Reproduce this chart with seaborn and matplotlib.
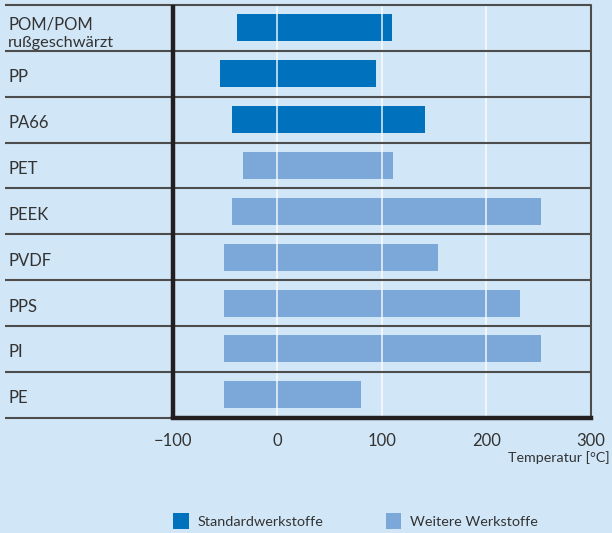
import matplotlib
matplotlib.use("Agg")
import matplotlib.pyplot as plt
import seaborn as sns
import pandas as pd
import numpy as np
from matplotlib.patches import Patch

# ---- data ----
materials = ["POM/POM\nrußgeschwärzt", "PP", "PA66", "PET", "PEEK", "PVDF", "PPS", "PI", "PE"]
t_min = [-39, -55, -43, -33, -43, -51, -51, -51, -51]
t_max = [110, 94, 141, 111, 252, 154, 232, 252, 80]
groups = ["Standardwerkstoffe"] * 3 + ["Weitere Werkstoffe"] * 6
group_order = ["Standardwerkstoffe", "Weitere Werkstoffe"]
x_ticks = [-100, 0, 100, 200, 300]
x_ticklabels = ["\u2212100", "0", "100", "200", "300"]
x_label = "Temperatur [°C]"

# ---- style ----
BG = "#d1e6f6"
palette = {"Standardwerkstoffe": "#0071bc", "Weitere Werkstoffe": "#7ba7d9"}
TXT = "#333333"
LINE = "#4d4d4d"
AXIS = "#231f20"

df = pd.DataFrame({"material": materials, "tmin": t_min, "tmax": t_max, "group": groups})
df["span"] = df["tmax"] - df["tmin"]

sns.set_style("white")
plt.rcParams["font.family"] = ["Lato", "DejaVu Sans"]

W, H = 612, 533
fig = plt.figure(figsize=(W / 100, H / 100), dpi=100, facecolor=BG)
top_px, bot_px, left_px, right_px = 5, 417.7, 5, 591
ax = fig.add_axes([left_px / W, 1 - bot_px / H, (right_px - left_px) / W, (bot_px - top_px) / H])
ax.set_facecolor(BG)

sns.barplot(data=df, x="span", y="material", hue="group", order=materials,
            hue_order=group_order, palette=palette, dodge=False, width=0.59,
            saturation=1, legend=False, ax=ax)
for p in ax.patches:
    yc = p.get_y() + p.get_height() / 2
    if not np.isfinite(yc) or not np.isfinite(p.get_width()):
        continue
    i = int(round(yc))
    p.set_x(df["tmin"].iloc[i])
    p.set_linewidth(0)
    p.set_zorder(2)

x0 = -100 - (172.7 - left_px) / 1.045
ax.set_xlim(x0, 300)
ax.set_ylim(len(materials) - 0.5, -0.5)
for s in ax.spines.values():
    s.set_visible(False)
ax.set_yticks([])
ax.set_ylabel("")
ax.set_xlabel("")
ax.set_xticks(x_ticks)
ax.set_xticklabels(x_ticklabels)
ax.tick_params(axis="x", length=5, width=1.8, color=AXIS, pad=6, labelsize=12, labelcolor=TXT)
ax.grid(False)

# white vertical grid lines over bars
for x in [0, 100, 200]:
    ax.plot([x, x], [-0.5, len(materials) - 0.5], color="white", lw=1.3, alpha=0.75, zorder=4)

# row separators
for k in range(len(materials) + 1):
    ax.plot([x0, 300], [k - 0.5, k - 0.5], color=LINE, lw=1.5, zorder=5, clip_on=False,
            solid_capstyle="butt")
# right border
ax.plot([300, 300], [-0.5, len(materials) - 0.5], color=LINE, lw=1.5, zorder=5, clip_on=False)
# thick axes
ax.plot([-100, 300], [len(materials) - 0.5] * 2, color=AXIS, lw=3.2, zorder=6, clip_on=False,
        solid_capstyle="projecting")
ax.plot([-100, -100], [-0.5, len(materials) - 0.5], color=AXIS, lw=3.2, zorder=6, clip_on=False,
        solid_capstyle="butt")

# category labels
row_px = (bot_px - top_px) / len(materials)
for i, lab in enumerate(materials):
    lines = lab.split("\n")
    if len(lines) == 1:
        ax.text(x0 + 3 / 1.045, i + 8.5 / row_px, lab, ha="left", va="baseline",
                fontsize=12, color=TXT, zorder=7)
    else:
        for j, ln in enumerate(lines):
            ax.text(x0 + 3 / 1.045, i + (1.4 + 17.4 * j) / row_px, ln, ha="left",
                    va="baseline", fontsize=12 if j == 0 else 11.8, color=TXT, zorder=7)

fig.text(610 / W, 1 - 461.7 / H, x_label, ha="right", va="baseline", fontsize=10.3, color=TXT)

handles = [Patch(facecolor=palette[g], edgecolor="none", label=g) for g in group_order]
fig.legend(handles=handles, loc="center left", bbox_to_anchor=(172.7 / W, 1 - 521 / H),
           ncol=2, frameon=False, fontsize=10.4, borderaxespad=0, borderpad=0,
           handlelength=1.1, handleheight=1.25, handletextpad=0.62, columnspacing=4.3,
           labelcolor=TXT)

fig.savefig("out.png", dpi=100, facecolor=BG)
